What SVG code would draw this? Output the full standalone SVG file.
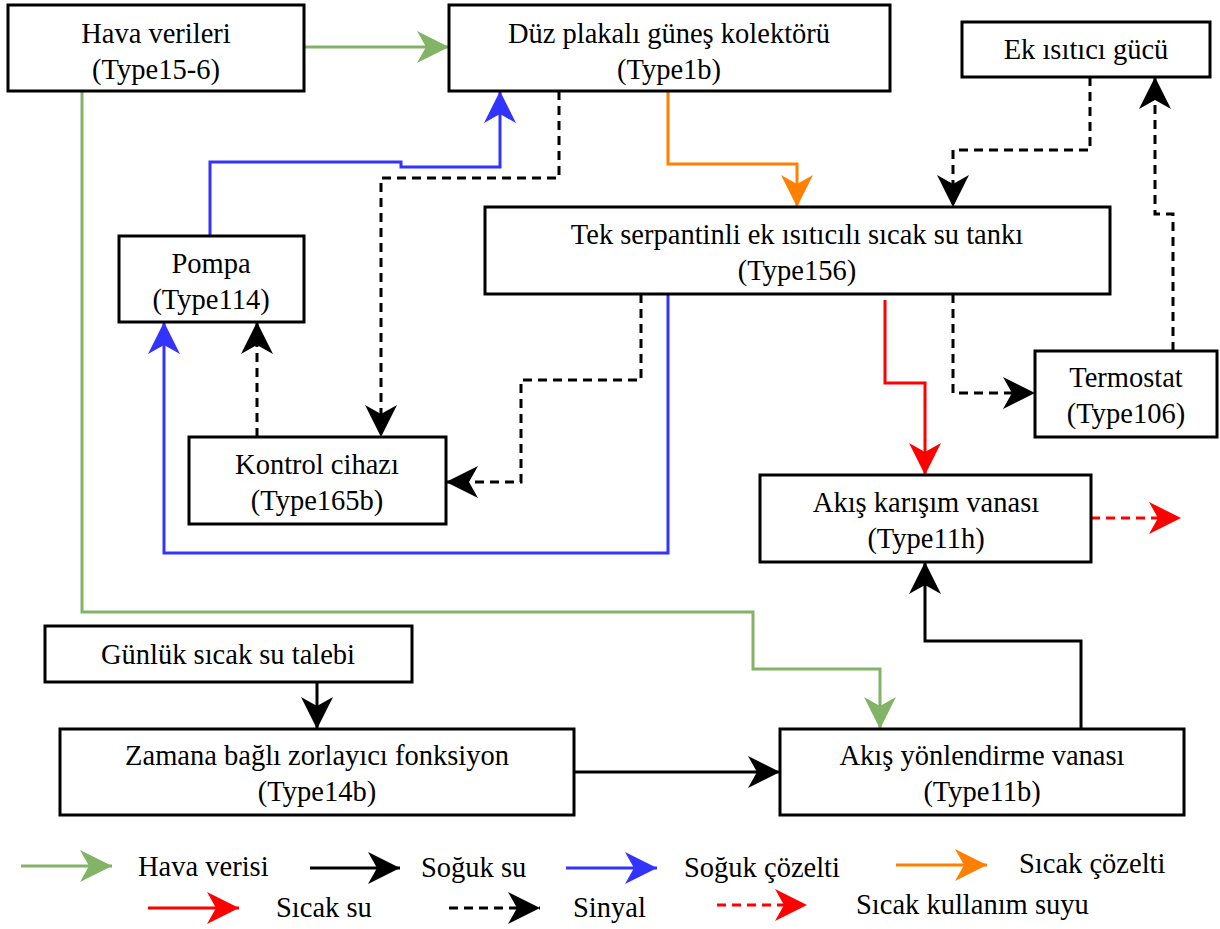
<svg xmlns="http://www.w3.org/2000/svg" width="1220" height="929" viewBox="0 0 1220 929">
<style>
.box{fill:#fff;stroke:#000;stroke-width:3}
text{font-family:"Liberation Serif","Times New Roman",serif;font-size:28.5px;fill:#000;dominant-baseline:central}
.c{text-anchor:middle}
.ln{fill:none;stroke-width:3}
.g{stroke:#82b366}.k{stroke:#000}.b{stroke:#3333ff}.o{stroke:#ff8000}.r{stroke:#ff0000}
.d{stroke-dasharray:9 6}
</style>
<defs>
<marker id="ag" markerUnits="userSpaceOnUse" markerWidth="32" markerHeight="32" viewBox="0 0 32 32" refX="32" refY="16" orient="auto"><path d="M0,0 L32,16 L0,32 L9,16 Z" fill="#82b366"/></marker>
<marker id="ak" markerUnits="userSpaceOnUse" markerWidth="32" markerHeight="32" viewBox="0 0 32 32" refX="32" refY="16" orient="auto"><path d="M0,0 L32,16 L0,32 L9,16 Z" fill="#000"/></marker>
<marker id="ab" markerUnits="userSpaceOnUse" markerWidth="32" markerHeight="32" viewBox="0 0 32 32" refX="32" refY="16" orient="auto"><path d="M0,0 L32,16 L0,32 L9,16 Z" fill="#3333ff"/></marker>
<marker id="ao" markerUnits="userSpaceOnUse" markerWidth="32" markerHeight="32" viewBox="0 0 32 32" refX="32" refY="16" orient="auto"><path d="M0,0 L32,16 L0,32 L9,16 Z" fill="#ff8000"/></marker>
<marker id="ar" markerUnits="userSpaceOnUse" markerWidth="32" markerHeight="32" viewBox="0 0 32 32" refX="32" refY="16" orient="auto"><path d="M0,0 L32,16 L0,32 L9,16 Z" fill="#ff0000"/></marker>
</defs>

<g id="connectors">
<path class="ln g" d="M305,47 H449" marker-end="url(#ag)"/>
<path class="ln g" d="M82,91 V612 H753 V669 H880 V729" marker-end="url(#ag)"/>
<path class="ln b" d="M210,236 V162 H401 V167 H500 V91" marker-end="url(#ab)"/>
<path class="ln b" d="M668,294 V553 H164 V322" marker-end="url(#ab)"/>
<path class="ln k d" d="M559,91 V178 H381 V437" marker-end="url(#ak)"/>
<path class="ln k d" d="M257,437 V322" marker-end="url(#ak)"/>
<path class="ln k d" d="M641,294 V380 H521 V482 H446" marker-end="url(#ak)"/>
<path class="ln o" d="M668,91 V164 H797 V207" marker-end="url(#ao)"/>
<path class="ln k d" d="M1090,77 V150 H953 V207" marker-end="url(#ak)"/>
<path class="ln k d" d="M1173,351 V214 H1155 V77" marker-end="url(#ak)"/>
<path class="ln r" d="M885,300 V383 H925 V475" marker-end="url(#ar)"/>
<path class="ln k d" d="M953,294 V393 H1035" marker-end="url(#ak)"/>
<path class="ln r d" d="M1091,518 H1181" marker-end="url(#ar)"/>
<path class="ln k" d="M1081,729 V641 H925 V562" marker-end="url(#ak)"/>
<path class="ln k" d="M317,682 V729" marker-end="url(#ak)"/>
<path class="ln k" d="M574,772 H780" marker-end="url(#ak)"/>
</g>

<g id="hava"><rect class="box" x="8" y="5" width="296" height="86"/><text class="c" x="156" y="33">Hava verileri</text><text class="c" x="156" y="69">(Type15-6)</text></g>
<g id="kolektor"><rect class="box" x="449" y="5" width="441" height="86"/><text class="c" x="669" y="33">Düz plakalı güneş kolektörü</text><text class="c" x="669" y="69">(Type1b)</text></g>
<g id="ekisitici"><rect class="box" x="962" y="22" width="248" height="55"/><text class="c" x="1086" y="49">Ek ısıtıcı gücü</text></g>
<g id="tank"><rect class="box" x="485" y="207" width="625" height="87"/><text class="c" x="797" y="234">Tek serpantinli ek ısıtıcılı sıcak su tankı</text><text class="c" x="797" y="270">(Type156)</text></g>
<g id="pompa"><rect class="box" x="119" y="236" width="185" height="86"/><text class="c" x="211" y="263">Pompa</text><text class="c" x="211" y="299">(Type114)</text></g>
<g id="termostat"><rect class="box" x="1035" y="351" width="182" height="86"/><text class="c" x="1126" y="377">Termostat</text><text class="c" x="1126" y="413">(Type106)</text></g>
<g id="kontrol"><rect class="box" x="189" y="437" width="257" height="87"/><text class="c" x="317" y="464">Kontrol cihazı</text><text class="c" x="317" y="500">(Type165b)</text></g>
<g id="karisim"><rect class="box" x="760" y="475" width="331" height="87"/><text class="c" x="926" y="502">Akış karışım vanası</text><text class="c" x="926" y="538">(Type11h)</text></g>
<g id="talep"><rect class="box" x="45" y="626" width="367" height="56"/><text class="c" x="228" y="654">Günlük sıcak su talebi</text></g>
<g id="zamana"><rect class="box" x="60" y="729" width="514" height="86"/><text class="c" x="317" y="755">Zamana bağlı zorlayıcı fonksiyon</text><text class="c" x="317" y="791">(Type14b)</text></g>
<g id="yonlendirme"><rect class="box" x="780" y="729" width="404" height="86"/><text class="c" x="982" y="755">Akış yönlendirme vanası</text><text class="c" x="982" y="791">(Type11b)</text></g>

<g id="legend">
<path class="ln g" d="M21,866 H112" marker-end="url(#ag)"/><text x="138" y="866">Hava verisi</text>
<path class="ln k" d="M310,868 H400" marker-end="url(#ak)"/><text x="421" y="867">Soğuk su</text>
<path class="ln b" d="M566,868 H657" marker-end="url(#ab)"/><text x="684" y="867">Soğuk çözelti</text>
<path class="ln o" d="M896,865 H987" marker-end="url(#ao)"/><text x="1019" y="863">Sıcak çözelti</text>
<path class="ln r" d="M148,908 H239" marker-end="url(#ar)"/><text x="276" y="907">Sıcak su</text>
<path class="ln k d" d="M449,908 H540" marker-end="url(#ak)"/><text x="573" y="907">Sinyal</text>
<path class="ln r d" d="M717,905 H807" marker-end="url(#ar)"/><text x="856" y="904">Sıcak kullanım suyu</text>
</g>
</svg>
